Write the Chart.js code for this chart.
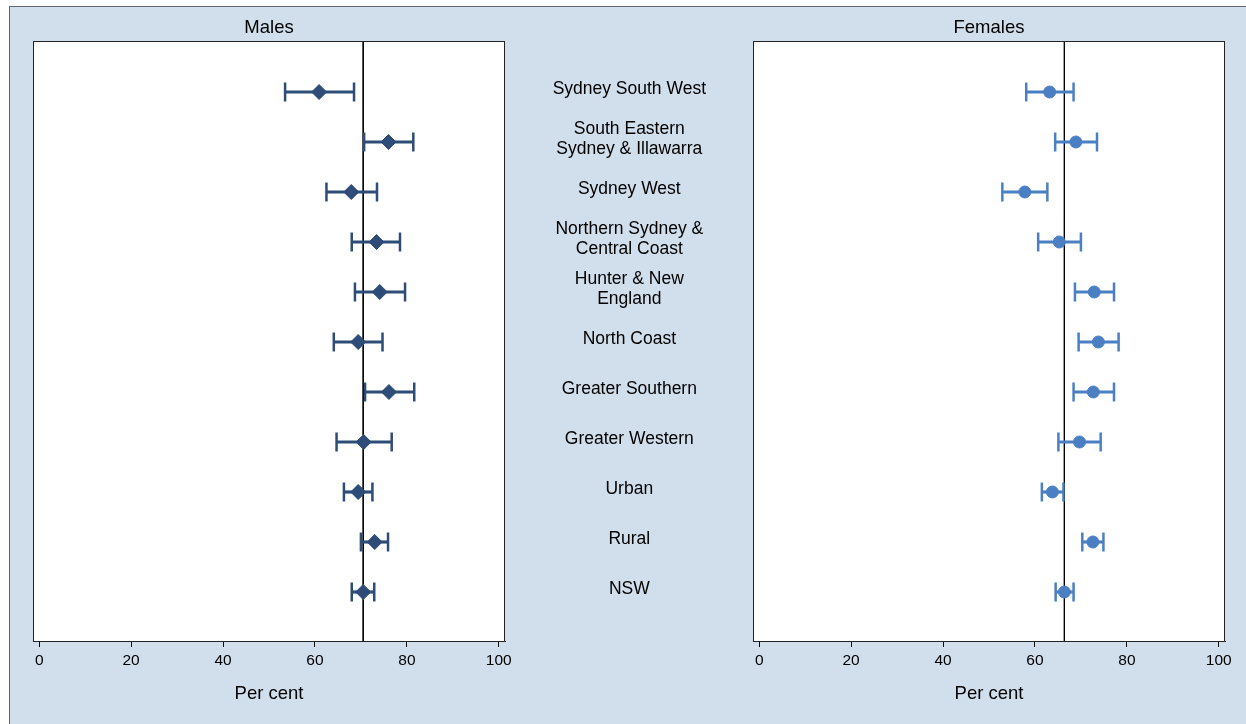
<!DOCTYPE html>
<html>
<head>
<meta charset="utf-8">
<title>Males / Females by area</title>
<script src="https://cdn.jsdelivr.net/npm/chart.js@4.4.1/dist/chart.umd.min.js"></script>
<style>
  html, body { margin: 0; padding: 0; background: #fff; overflow: hidden; }
  #frame {
    position: absolute; left: 9px; top: 6px; width: 1240px; height: 720px;
    background: #d1deec; border-left: 1.5px solid #62666c; border-top: 1.5px solid #62666c;
  }
  canvas { position: absolute; top: 0; }
  #malesChart { left: 0; }
  #femalesChart { left: 505px; }
</style>
</head>
<body>
<div id="frame"></div>
<canvas id="malesChart" width="520" height="724"></canvas>
<canvas id="femalesChart" width="741" height="724"></canvas>
<script>
// Areas, top to bottom
var regions = [
  ['Sydney South West'],
  ['South Eastern', 'Sydney & Illawarra'],
  ['Sydney West'],
  ['Northern Sydney &', 'Central Coast'],
  ['Hunter & New', 'England'],
  ['North Coast'],
  ['Greater Southern'],
  ['Greater Western'],
  ['Urban'],
  ['Rural'],
  ['NSW']
];

// Males: estimate and 95% CI (per cent)
var maleEst = [60.9, 76.0, 67.9, 73.4, 74.1, 69.4, 76.1, 70.6, 69.4, 73.0, 70.5];
var maleLo  = [53.5, 70.7, 62.5, 68.0, 68.7, 64.1, 70.9, 64.7, 66.3, 70.0, 68.0];
var maleHi  = [68.5, 81.4, 73.5, 78.5, 79.6, 74.7, 81.6, 76.7, 72.5, 75.9, 72.9];
var maleRef = 70.5;

// Females: estimate and 95% CI (per cent)
var femaleEst = [63.2, 68.9, 57.8, 65.3, 72.9, 73.8, 72.7, 69.7, 63.8, 72.6, 66.4];
var femaleLo  = [58.1, 64.4, 52.9, 60.7, 68.7, 69.5, 68.4, 65.1, 61.5, 70.3, 64.5];
var femaleHi  = [68.4, 73.5, 62.7, 70.0, 77.2, 78.2, 77.2, 74.3, 66.2, 74.9, 68.4];
var femaleRef = 66.4;

var xTicks = [0, 20, 40, 60, 80, 100];

var FONT = "'Liberation Sans', Arial, Helvetica, sans-serif";

// white plot region with a dark frame
var plotBox = {
  id: 'plotBox',
  beforeDraw: function (chart) {
    var a = chart.chartArea, ctx = chart.ctx;
    ctx.save();
    ctx.fillStyle = '#fff';
    ctx.fillRect(a.left, a.top, a.right - a.left, a.bottom - a.top);
    ctx.restore();
  },
  afterDraw: function (chart) {
    var a = chart.chartArea, ctx = chart.ctx;
    ctx.save();
    ctx.strokeStyle = '#222';
    ctx.lineWidth = 1;
    ctx.strokeRect(Math.round(a.left) + 0.5, Math.round(a.top) + 0.5,
                   Math.round(a.right - a.left) - 1, Math.round(a.bottom - a.top));
    ctx.restore();
  }
};

function makePanel(canvasId, title, est, lo, hi, ref, color, style, radius, withLabels, pad) {
  var rows = est.map(function (_, i) { return i + 1; });
  var scales = {
    x: {
      type: 'linear', min: -1.35, max: 101.35, offset: false,
      afterBuildTicks: function (s) { s.ticks = xTicks.map(function (v) { return { value: v }; }); },
      afterFit: function (s) { s.height = 83; s.paddingLeft = 0; s.paddingRight = 0; },
      grid: { drawOnChartArea: false, drawTicks: true, tickLength: 6, color: '#000', offset: false },
      border: { display: true, color: '#000' },
      ticks: { color: '#000', padding: 4, font: { family: FONT, size: 15.5 } },
      title: { display: true, text: 'Per cent', color: '#000',
               font: { family: FONT, size: 18.5 }, padding: { top: 0, bottom: 19 } }
    },
    y: { type: 'linear', min: -0.02, max: 11.98, reverse: true, display: false,
         offset: false, grid: { offset: false } }
  };
  if (withLabels) {
    scales.yl = {
      type: 'linear', position: 'left', min: 0.04, max: 12.04, reverse: true,
      offset: false,
      afterBuildTicks: function (s) { s.ticks = rows.map(function (v) { return { value: v }; }); },
      afterFit: function (s) { s.width = 248; s.paddingTop = 0; s.paddingBottom = 0; },
      grid: { display: false, drawTicks: false, offset: false },
      border: { display: false },
      ticks: {
        autoSkip: false, crossAlign: 'center', padding: 47, color: '#000',
        font: { family: FONT, size: 17.5, lineHeight: 1.12 },
        callback: function (v, i) { return regions[i]; }
      }
    };
  }

  return new Chart(document.getElementById(canvasId), {
    type: 'scatter',
    data: {
      datasets: [
        { // point estimates
          data: rows.map(function (r, i) { return { x: est[i], y: r }; }),
          pointStyle: style, radius: radius,
          backgroundColor: color, borderColor: color, borderWidth: 1,
          order: 0
        },
        { // CI caps
          data: rows.map(function (r, i) { return { x: lo[i], y: r }; })
            .concat(rows.map(function (r, i) { return { x: hi[i], y: r }; })),
          pointStyle: 'line', rotation: 90, radius: 9.5,
          borderColor: color, borderWidth: 2.5,
          order: 1
        },
        { // CI span
          type: 'bar', indexAxis: 'y',
          data: rows.map(function (r, i) { return { y: r, x: [lo[i], hi[i]] }; }),
          backgroundColor: color, borderWidth: 0, barThickness: 2.5,
          order: 2
        },
        { // overall reference line
          type: 'line',
          data: [{ x: ref, y: -0.02 }, { x: ref, y: 11.98 }],
          borderColor: '#000', borderWidth: 1, pointRadius: 0,
          order: 3
        }
      ]
    },
    options: {
      responsive: false,
      devicePixelRatio: 1,
      animation: false,
      events: [],
      layout: { padding: pad },
      scales: scales,
      plugins: {
        legend: { display: false },
        tooltip: { enabled: false },
        title: {
          display: true, text: title, color: '#000', fullSize: false,
          font: { family: FONT, size: 18.5, weight: 'normal', lineHeight: 1.2 },
          padding: { top: 17, bottom: 1.8 }
        }
      }
    },
    plugins: [plotBox]
  });
}

makePanel('malesChart', 'Males', maleEst, maleLo, maleHi, maleRef,
          '#2d4c77', 'rectRot', 7.5, false, { left: 33, right: 15, top: 0, bottom: 0 });
makePanel('femalesChart', 'Females', femaleEst, femaleLo, femaleHi, femaleRef,
          '#4b7fc4', 'circle', 6, true, { left: 0, right: 21, top: 0, bottom: 0 });
</script>
</body>
</html>
